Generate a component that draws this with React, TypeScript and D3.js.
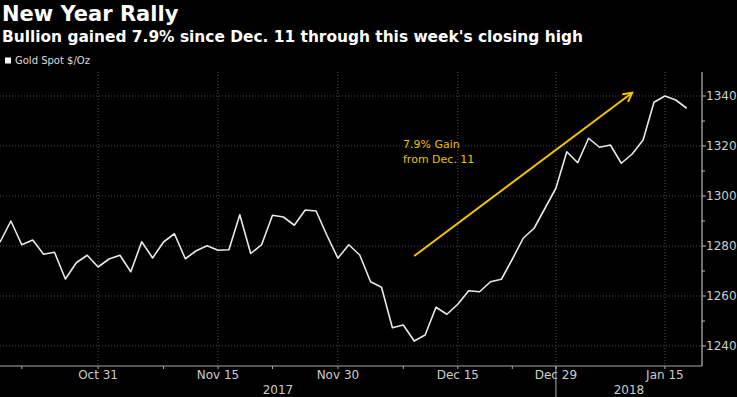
import React from 'react';
import * as d3 from 'd3';

// trading days shown on the chart (Christmas and New Year's Day are skipped)
const dates = [
  '2017-10-18', '2017-10-19', '2017-10-20', '2017-10-23', '2017-10-24', '2017-10-25', '2017-10-26', '2017-10-27',
  '2017-10-30', '2017-10-31', '2017-11-01', '2017-11-02', '2017-11-03', '2017-11-06', '2017-11-07', '2017-11-08',
  '2017-11-09', '2017-11-10', '2017-11-13', '2017-11-14', '2017-11-15', '2017-11-16', '2017-11-17', '2017-11-20',
  '2017-11-21', '2017-11-22', '2017-11-23', '2017-11-24', '2017-11-27', '2017-11-28', '2017-11-29', '2017-11-30',
  '2017-12-01', '2017-12-04', '2017-12-05', '2017-12-06', '2017-12-07', '2017-12-08', '2017-12-11', '2017-12-12',
  '2017-12-13', '2017-12-14', '2017-12-15', '2017-12-18', '2017-12-19', '2017-12-20', '2017-12-21', '2017-12-22',
  '2017-12-26', '2017-12-27', '2017-12-28', '2017-12-29', '2018-01-02', '2018-01-03', '2018-01-04', '2018-01-05',
  '2018-01-08', '2018-01-09', '2018-01-10', '2018-01-11', '2018-01-12', '2018-01-15', '2018-01-16', '2018-01-17',
];

const goldSpot = [
  1281.5, 1290.0, 1280.5, 1282.4, 1276.7, 1277.5, 1266.8, 1273.3,
  1276.3, 1271.6, 1274.8, 1276.3, 1269.7, 1281.7, 1275.2, 1281.6,
  1284.9, 1274.9, 1278.1, 1280.1, 1278.3, 1278.5, 1292.5, 1277.0,
  1280.5, 1292.3, 1291.6, 1288.3, 1294.4, 1294.0, 1284.2, 1275.1,
  1280.5, 1276.4, 1265.7, 1263.5, 1247.3, 1248.4, 1242.0, 1244.4,
  1255.5, 1252.7, 1256.7, 1262.1, 1261.7, 1265.7, 1266.7, 1274.7,
  1283.1, 1287.1, 1295.1, 1303.1, 1317.7, 1313.3, 1323.1, 1319.5,
  1320.4, 1313.1, 1316.8, 1322.4, 1337.5, 1340.0, 1338.4, 1335.1,
];

const xTickDates = ['2017-10-31', '2017-11-15', '2017-11-30', '2017-12-15', '2017-12-29', '2018-01-15'];
const xTickLabels = ['Oct 31', 'Nov 15', 'Nov 30', 'Dec 15', 'Dec 29', 'Jan 15'];
const xMinorDates = ['2017-10-20', '2017-11-08', '2017-11-22', '2017-12-08', '2017-12-22'];
const yearLabels = ['2017', '2018'];
const yearBreak = '2017-12-29';

const yTicks = [1240, 1260, 1280, 1300, 1320, 1340];
const yMinor = [1250, 1270, 1290, 1310, 1330];

const arrowFrom = { date: '2017-12-11', value: 1276 };
const arrowTo = { date: '2018-01-10', value: 1341.3 };
const noteLines = ['7.9% Gain', 'from Dec. 11'];

const W = 737;
const H = 397;
const FONT = 'DejaVu Sans, sans-serif';

export default function App() {
  const plotTop = 72;
  const plotBottom = 366;
  const axisX = 702;

  const idx = (d: string) => dates.indexOf(d);
  const x = d3.scaleLinear().domain([0, dates.length - 1]).range([0, 686.7]);
  const y = d3.scaleLinear().domain([1232, 1349.6]).range([plotBottom, plotTop]);

  const line = d3.line<number>()
    .x((_, i) => x(i))
    .y(d => y(d));

  const ax1 = x(idx(arrowFrom.date));
  const ay1 = y(arrowFrom.value);
  const ax2 = x(idx(arrowTo.date));
  const ay2 = y(arrowTo.value);
  const ang = Math.atan2(ay2 - ay1, ax2 - ax1);
  const headLen = 10;
  const h1 = [ax2 - headLen * Math.cos(ang - 0.5), ay2 - headLen * Math.sin(ang - 0.5)];
  const h2 = [ax2 - headLen * Math.cos(ang + 0.5), ay2 - headLen * Math.sin(ang + 0.5)];

  const breakX = x(idx(yearBreak));

  return (
    <svg width={W} height={H} style={{ position: 'absolute', left: 0, top: 0, background: '#000' }}>
      <rect width={W} height={H} fill="#000" />

      {/* titles */}
      <text x={2} y={20.5} fill="#fff" fontFamily={FONT} fontWeight="bold" fontSize={21}>New Year Rally</text>
      <text x={2} y={42} fill="#fff" fontFamily={FONT} fontWeight="bold" fontSize={15.4}>
        Bullion gained 7.9% since Dec. 11 through this week's closing high
      </text>
      <rect x={5} y={57.5} width={6} height={6} fill="#fff" />
      <text x={15} y={64} fill="#ddd" fontFamily={FONT} fontSize={10}>Gold Spot $/Oz</text>

      {/* grid */}
      {yTicks.map(t => (
        <line key={'gy' + t} x1={0} x2={axisX} y1={y(t)} y2={y(t)} stroke="#4a4a4a" strokeWidth={1} strokeDasharray="1,2" />
      ))}
      {xTickDates.map(d => (
        <line key={'gx' + d} x1={x(idx(d))} x2={x(idx(d))} y1={plotTop} y2={plotBottom} stroke="#4a4a4a" strokeWidth={1} strokeDasharray="1,2" />
      ))}

      {/* x axis */}
      <line x1={0} x2={axisX} y1={plotBottom} y2={plotBottom} stroke="#aaa" strokeWidth={1.2} />
      {xTickDates.map((d, i) => (
        <g key={'xt' + d}>
          <line x1={x(idx(d))} x2={x(idx(d))} y1={plotBottom} y2={plotBottom + 3} stroke="#aaa" />
          <text x={x(idx(d))} y={379} textAnchor="middle" fill="#ccc" fontFamily={FONT} fontSize={12}>{xTickLabels[i]}</text>
        </g>
      ))}
      {xMinorDates.map(d => (
        <line key={'xm' + d} x1={x(idx(d))} x2={x(idx(d))} y1={plotBottom} y2={plotBottom + 3} stroke="#aaa" />
      ))}
      <line x1={breakX} x2={breakX} y1={plotBottom} y2={H} stroke="#aaa" strokeWidth={1} />
      <text x={breakX / 2} y={394} textAnchor="middle" fill="#ccc" fontFamily={FONT} fontSize={12}>{yearLabels[0]}</text>
      <text x={(breakX + axisX) / 2} y={394} textAnchor="middle" fill="#ccc" fontFamily={FONT} fontSize={12}>{yearLabels[1]}</text>

      {/* y axis on the right */}
      <line x1={axisX} x2={axisX} y1={plotTop} y2={plotBottom} stroke="#bbb" strokeWidth={1.2} />
      {yTicks.map(t => (
        <g key={'yt' + t}>
          <line x1={axisX} x2={axisX + 4} y1={y(t)} y2={y(t)} stroke="#bbb" />
          <text x={706} y={y(t)} dy="0.36em" fill="#ccc" fontFamily={FONT} fontSize={12}>{t}</text>
        </g>
      ))}
      {yMinor.map(t => (
        <line key={'ym' + t} x1={axisX} x2={axisX + 3} y1={y(t)} y2={y(t)} stroke="#bbb" />
      ))}

      {/* series */}
      <path d={line(goldSpot) || ''} fill="none" stroke="#e8e8e8" strokeWidth={1.6} strokeLinejoin="round" />

      {/* annotation */}
      <line x1={ax1} y1={ay1} x2={ax2} y2={ay2} stroke="#f2c300" strokeWidth={2} />
      <polyline points={`${h1[0]},${h1[1]} ${ax2},${ay2} ${h2[0]},${h2[1]}`} fill="none" stroke="#f2c300" strokeWidth={2} />
      {noteLines.map((l, i) => (
        <text key={l} x={403} y={148 + i * 15} fill="#e8c000" fontFamily={FONT} fontSize={11}>{l}</text>
      ))}
    </svg>
  );
}
